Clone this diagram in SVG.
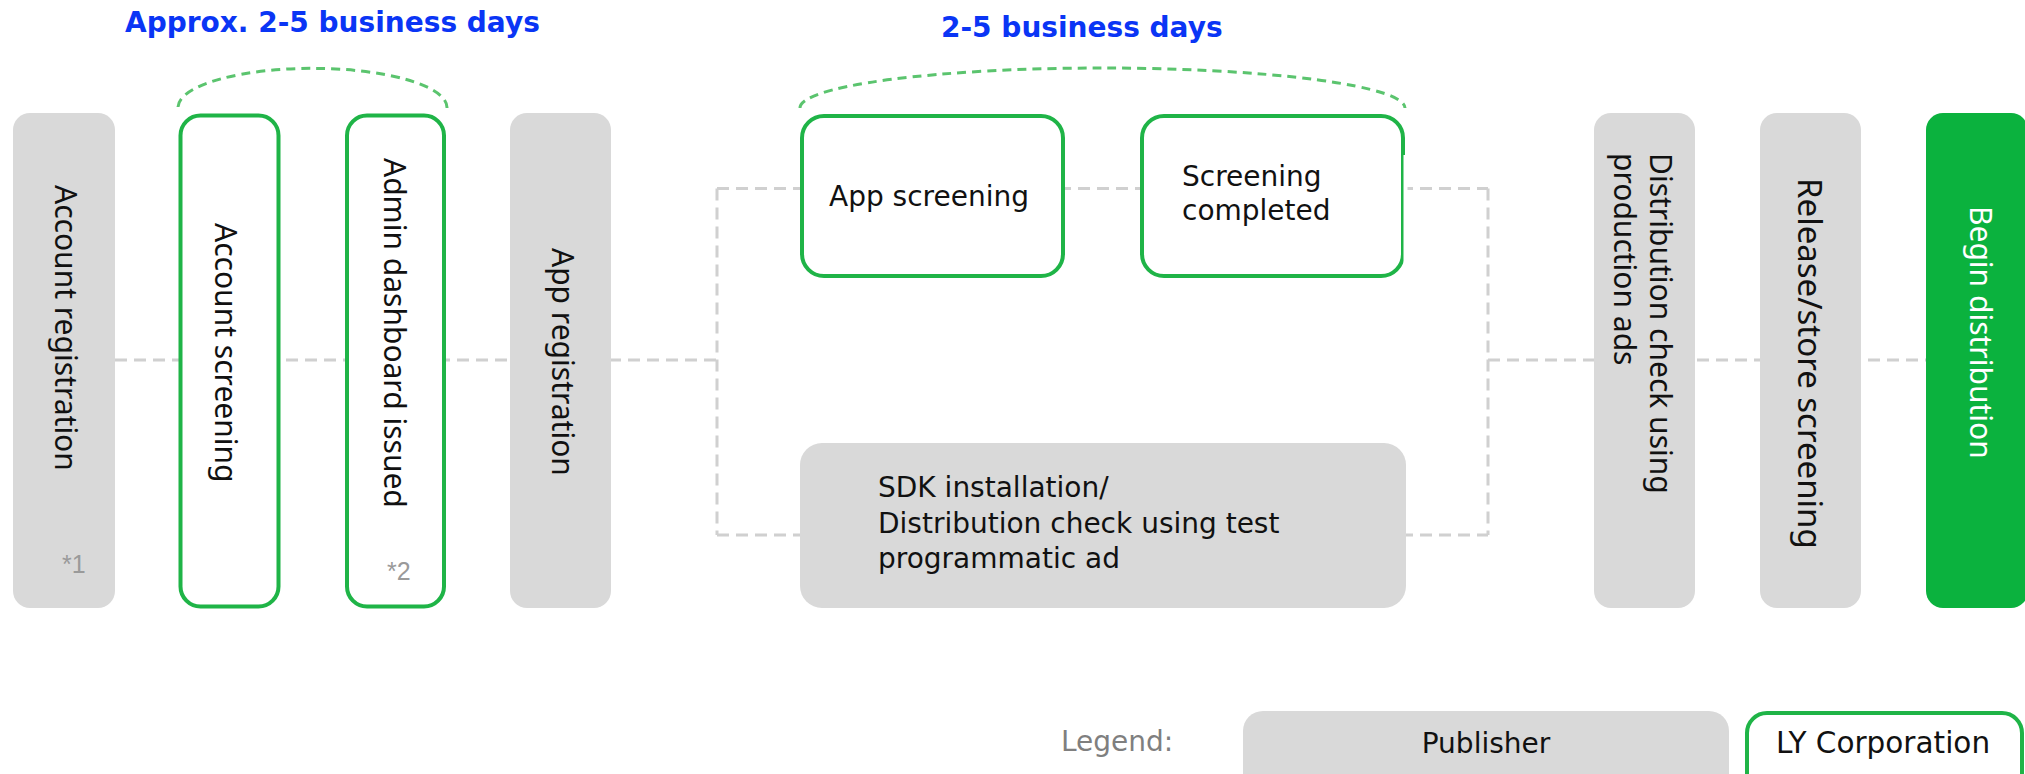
<svg xmlns="http://www.w3.org/2000/svg" width="2025" height="774" viewBox="0 0 2025 774">
  <style>
    .pub { fill: #d9d9d9; }
    .ly { fill: #ffffff; stroke: #1fb447; stroke-width: 4; }
    .go { fill: #0bb23e; }
    .flow { fill: none; stroke: #d0d0d0; stroke-width: 3; stroke-dasharray: 12 7; }
    .span { fill: none; stroke: #5bc46e; stroke-width: 3; stroke-dasharray: 9 6; }
    .vt { font-family: "Noto Sans", "Open Sans", sans-serif; font-size: 30px; fill: #111; }
    .ht { font-family: "DejaVu Sans", Verdana, sans-serif; font-size: 28px; fill: #111; }
    .title { font-family: "DejaVu Sans", Verdana, sans-serif; font-size: 28px; font-weight: bold; fill: #0a35f5; }
    .note { font-family: "Liberation Sans", Arial, sans-serif; font-size: 25px; fill: #9a9a9a; }
    .lg { font-family: "DejaVu Sans", Verdana, sans-serif; font-size: 28px; fill: #111; }
  </style>

  <!-- lead-time labels and brackets -->
  <g id="timing">
    <text class="title" x="125" y="32">Approx. 2-5 business days</text>
    <path class="span" d="M178,107 A134,39 0 0 1 447,108"/>
    <text class="title" x="941" y="37">2-5 business days</text>
    <path class="span" d="M800,108 A302.5,40 0 0 1 1405,108"/>
  </g>

  <!-- flow lines (drawn beneath the steps) -->
  <g id="connectors">
    <path class="flow" d="M115,360 H717"/>
    <path class="flow" d="M717,188.5 V535"/>
    <path class="flow" d="M717,188.5 H1488"/>
    <path class="flow" d="M717,535 H1488"/>
    <path class="flow" d="M1488,188.5 V535"/>
    <path class="flow" d="M1488,360 H1926"/>
  </g>

  <g id="account-registration">
    <rect class="pub" x="13" y="113" width="102" height="495" rx="17"/>
    <text class="vt" transform="translate(55,185) rotate(90)">Account registration</text>
    <text class="note" x="62" y="573">*1</text>
  </g>

  <g id="account-screening">
    <rect class="ly" x="180.5" y="115.5" width="98" height="491" rx="20"/>
    <text class="vt" transform="translate(215,223) rotate(90)">Account screening</text>
  </g>

  <g id="admin-dashboard">
    <rect class="ly" x="347" y="115.5" width="97" height="491" rx="20"/>
    <text class="vt" transform="translate(384,158) rotate(90)">Admin dashboard issued</text>
    <text class="note" x="387" y="580">*2</text>
  </g>

  <g id="app-registration">
    <rect class="pub" x="510" y="113" width="101" height="495" rx="17"/>
    <text class="vt" transform="translate(552,248) rotate(90)">App registration</text>
  </g>

  <g id="app-screening">
    <rect class="ly" x="802" y="116" width="261" height="160" rx="22"/>
    <text class="ht" x="829" y="206">App screening</text>
  </g>

  <g id="screening-completed">
    <rect class="ly" x="1142" y="116" width="261" height="160" rx="22"/>
    <rect x="1403.5" y="155" width="4" height="110" fill="#ffffff"/>
    <text class="ht" x="1182" y="186">Screening</text>
    <text class="ht" x="1182" y="220">completed</text>
  </g>

  <g id="sdk-installation">
    <rect class="pub" x="800" y="443" width="606" height="165" rx="22"/>
    <text class="ht" x="878" y="497">SDK installation/</text>
    <text class="ht" x="878" y="532.5">Distribution check using test</text>
    <text class="ht" x="878" y="568">programmatic ad</text>
  </g>

  <g id="distribution-check">
    <rect class="pub" x="1594" y="113" width="101" height="495" rx="17"/>
    <text class="vt" transform="translate(1650,153) rotate(90)">Distribution check using<tspan x="0" dy="36">production ads</tspan></text>
  </g>

  <g id="release-screening">
    <rect class="pub" x="1760" y="113" width="101" height="495" rx="17"/>
    <text class="vt" style="font-size:33px" transform="translate(1798,178) rotate(90)">Release/store screening</text>
  </g>

  <g id="begin-distribution">
    <rect class="go" x="1926" y="113" width="102" height="495" rx="17"/>
    <text class="vt" style="fill:#ffffff" transform="translate(1970,206) rotate(90)">Begin distribution</text>
  </g>

  <g id="legend">
    <text class="lg" x="1061" y="751" style="fill:#7f7f7f">Legend:</text>
    <rect class="pub" x="1243" y="711" width="486" height="90" rx="20"/>
    <text class="lg" x="1486" y="753" text-anchor="middle">Publisher</text>
    <rect class="ly" x="1747" y="713" width="275" height="90" rx="20"/>
    <text class="lg" x="1883" y="753" text-anchor="middle" style="font-size:29.5px">LY Corporation</text>
  </g>
</svg>
